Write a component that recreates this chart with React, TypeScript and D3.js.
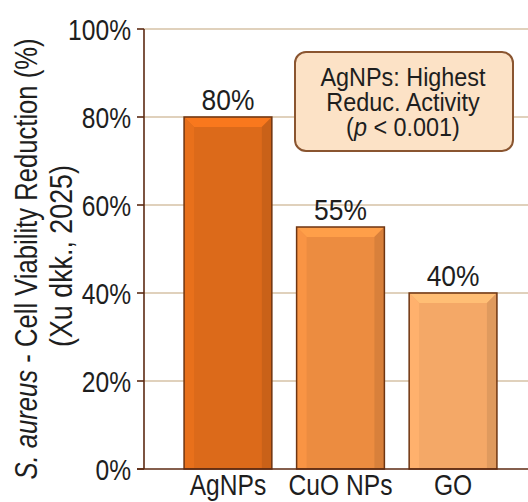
import React from "react";
import * as d3 from "d3";

const categories = ["AgNPs", "CuO NPs", "GO"];
const values = [80, 55, 40];
const barColors = ["#dc6a1a", "#ec8c40", "#f4a867"];
const yTicks = [0, 20, 40, 60, 80, 100];
const annotationLines = ["AgNPs: Highest", "Reduc. Activity"];

const W = 528;
const H = 502;
const FONT = "'Liberation Sans', Arial, sans-serif";

function T({ x, y, sx = 0.9, size = 28, anchor = "middle", rotate = 0, children }: any) {
  return (
    <text
      transform={`translate(${x},${y})${rotate ? ` rotate(${rotate})` : ""} scale(${sx},1)`}
      textAnchor={anchor}
      fontSize={size}
      fill="#1e1e1e"
    >
      {children}
    </text>
  );
}

export default function App() {
  const y = d3.scaleLinear().domain([0, 100]).range([469, 29]);
  const x = d3
    .scaleBand<string>()
    .domain(categories)
    .range([144, 537])
    .paddingInner(0.22)
    .paddingOuter(0.356);
  const bw = x.bandwidth();
  const base = y(0);
  const b = 10;

  return (
    <svg
      width={W}
      height={H}
      style={{ position: "absolute", left: 0, top: 0, background: "#fff" }}
      fontFamily={FONT}
    >
      <rect width={W} height={H} fill="#fff" />
      {yTicks.filter((t) => t > 0).map((t) => (
        <line key={t} x1={144} x2={W} y1={y(t)} y2={y(t)} stroke="#d6c2a6" strokeWidth={1.3} />
      ))}
      {categories.map((c, i) => {
        const x0 = x(c)!;
        const y0 = y(values[i]);
        const col = d3.color(barColors[i])!;
        const light = col.brighter(0.35).formatHex();
        const lighter = col.brighter(0.15).formatHex();
        const dark = col.darker(0.25).formatHex();
        const x1 = x0 + bw;
        return (
          <g key={c}>
            <rect x={x0} y={y0} width={bw} height={base - y0} fill={barColors[i]} />
            <polygon
              points={`${x0},${y0} ${x1},${y0} ${x1 - b},${y0 + b} ${x0 + b},${y0 + b}`}
              fill={light}
            />
            <polygon
              points={`${x0},${y0} ${x0 + b},${y0 + b} ${x0 + b},${base} ${x0},${base}`}
              fill={lighter}
            />
            <polygon
              points={`${x1},${y0} ${x1 - b},${y0 + b} ${x1 - b},${base} ${x1},${base}`}
              fill={dark}
            />
            <rect x={x0} y={y0} width={bw} height={base - y0} fill="none" stroke="#6e3512" strokeWidth={1.5} />
            <T x={x0 + bw / 2} y={y0 - 7} size={29} sx={0.91}>{values[i]}%</T>
            <T x={x0 + bw / 2} y={495} size={30} sx={0.82}>{c}</T>
          </g>
        );
      })}
      <line x1={144} x2={144} y1={29} y2={base} stroke="#5c2a12" strokeWidth={1.6} />
      <line x1={137} x2={W} y1={base} y2={base} stroke="#5c2a12" strokeWidth={1.6} />
      {yTicks.map((t) => (
        <g key={t}>
          <line x1={137} x2={144} y1={y(t)} y2={y(t)} stroke="#5c2a12" strokeWidth={1.6} />
          <T x={131} y={y(t) + 10.5} size={30} sx={0.82} anchor="end">{t}%</T>
        </g>
      ))}
      <T x={37} y={259} size={31} sx={0.827} rotate={-90}>
        <tspan fontStyle="italic">S. aureus</tspan>
        <tspan> - Cell Viability Reduction (%)</tspan>
      </T>
      <T x={72} y={256} size={31} sx={0.866} rotate={-90}>(Xu dkk., 2025)</T>
      <rect x={295} y={52} width={218} height={99} rx={11} fill="#fce2c6" stroke="#8a5530" strokeWidth={2} />
      {annotationLines.map((l, i) => (
        <T key={l} x={403} y={86 + i * 25} size={26} sx={0.9}>{l}</T>
      ))}
      <T x={403} y={136} size={26} sx={0.9}>
        (<tspan fontStyle="italic">p</tspan> &lt; 0.001)
      </T>
    </svg>
  );
}
